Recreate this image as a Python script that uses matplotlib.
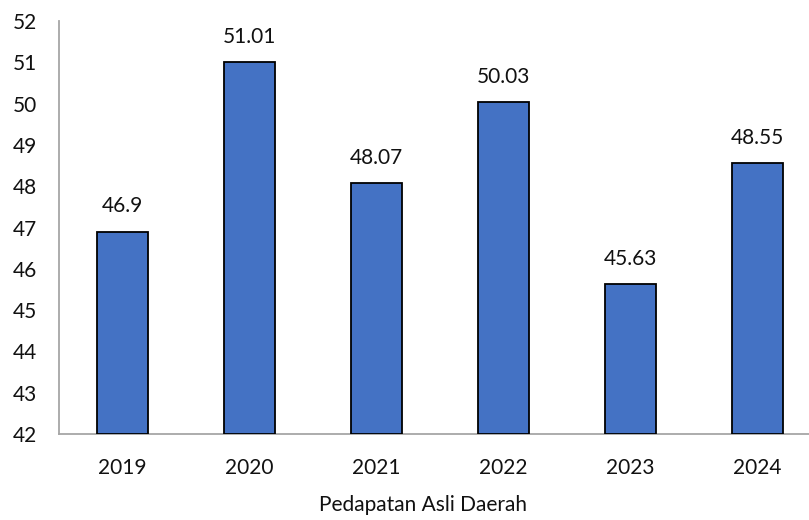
import matplotlib
matplotlib.use("Agg")
import matplotlib.pyplot as plt

years = ["2019", "2020", "2021", "2022", "2023", "2024"]
values = [46.9, 51.01, 48.07, 50.03, 45.63, 48.55]
value_labels = ["46.9", "51.01", "48.07", "50.03", "45.63", "48.55"]
yticks = [42, 43, 44, 45, 46, 47, 48, 49, 50, 51, 52]

plt.rcParams['font.family'] = ['Lato', 'DejaVu Sans']

fig = plt.figure(figsize=(8.09, 5.2), dpi=100)
ax = fig.add_axes([59/809, 86/520, 762/809, 413/520])

x = list(range(len(years)))
bars = ax.bar(x, [v - 42 for v in values], bottom=42, width=0.40,
              color="#4472C4", edgecolor="black", linewidth=1.3, zorder=3)

for xi, v, lab in zip(x, values, value_labels):
    ax.annotate(lab, (xi, v), xytext=(0, 11), textcoords="offset points",
                ha="center", va="bottom", fontsize=15, color="#111111")

ax.set_xlim(-0.5, 5.5)
ax.set_ylim(42, 52)
ax.set_yticks(yticks)
ax.set_xticks(x)
ax.set_xticklabels(years)
ax.tick_params(axis="both", length=0, labelsize=15, colors="#111111")
ax.tick_params(axis="y", pad=16)
ax.tick_params(axis="x", pad=17)

for s in ["top", "right"]:
    ax.spines[s].set_visible(False)
for s in ["left", "bottom"]:
    ax.spines[s].set_color("#A6A6A6")
    ax.spines[s].set_linewidth(1.3)

fig.text(423/809, 1 - 505/520, "Pedapatan Asli Daerah", ha="center", va="center",
         fontsize=15, color="#111111")

fig.savefig("out.png", dpi=100)
